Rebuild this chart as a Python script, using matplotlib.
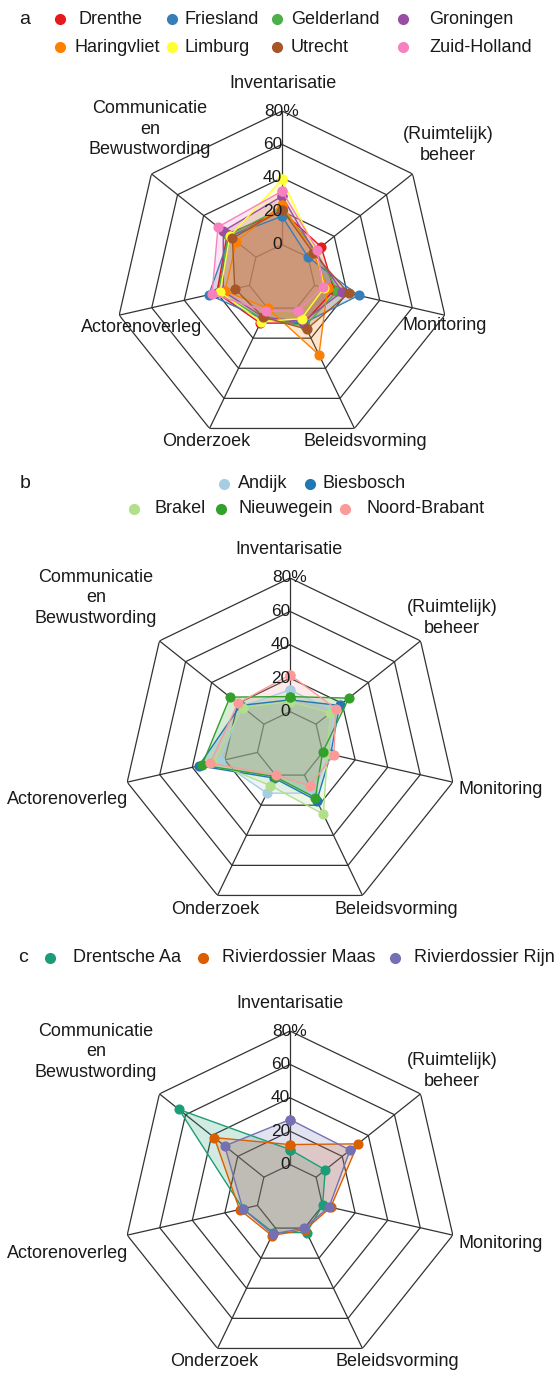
import matplotlib
matplotlib.use('Agg')
import matplotlib.pyplot as plt
import numpy as np
from matplotlib.lines import Line2D

plt.rcParams['font.family'] = ['Liberation Sans', 'DejaVu Sans']

W, H = 555, 1374

categories = ['Inventarisatie', '(Ruimtelijk)\nbeheer', 'Monitoring', 'Beleidsvorming',
              'Onderzoek', 'Actorenoverleg', 'Communicatie\nen\nBewustwording']
ring_values = [0, 20, 40, 60, 80]
ring_labels = ['0', '20', '40', '60', '80%']

# panel a
names_a = ['Drenthe', 'Friesland', 'Gelderland', 'Groningen',
           'Haringvliet', 'Limburg', 'Utrecht', 'Zuid-Holland']
colors_a = ['#e41a1c', '#377eb8', '#4daf4a', '#984ea3',
            '#ff7f00', '#ffff33', '#a65628', '#f781bf']
values_a = [
    [20, 10, 12, 10, 10, 20, 22],
    [17, 0, 27, 10, 7, 25, 20],
    [22, 6, 14, 12, 7, 19, 21],
    [29, 5, 17, 9, 6, 16, 25],
    [24, 4, 8, 31, 0, 15, 15],
    [39, 6, 6, 7, 9, 18, 20],
    [21, 4, 21, 14, 6, 9, 18],
    [32, 7, 5, 2, 2, 23, 29],
]

# panel b
names_b = ['Andijk', 'Biesbosch', 'Brakel', 'Nieuwegein', 'Noord-Brabant']
colors_b = ['#a6cee3', '#1f78b4', '#b2df8a', '#33a02c', '#fb9a99']
values_b = [
    [13, 13, 4, 12, 12, 23, 17],
    [7, 18, 5, 17, 2, 36, 18],
    [6, 11, 3, 26, 7, 27, 16],
    [9, 25, 0, 15, 1, 34, 26],
    [22, 15, 7, 7, 0, 29, 20],
]

# panel c
names_c = ['Drentsche Aa', 'Rivierdossier Maas', 'Rivierdossier Rijn']
colors_c = ['#1b9e77', '#d95f02', '#7570b3']
values_c = [
    [9, 7, 0, 3, 3, 9, 65],
    [12, 32, 5, 1, 5, 11, 38],
    [27, 26, 4, 0, 4, 9, 30],
]

# layout (pixels)
rad = 167
centers = [(282, 278), (290, 745), (290, 1198)]
label_offsets = [
    [(1, -195), (166, -133), (163, 47), (83, 164), (-76, 164), (-140, 49), (-132, -149)],
    [(-1, -196), (162, -127), (211, 45), (106, 164), (-75, 164), (-222, 55), (-194, -147)],
    [(0, -195), (162, -127), (211, 45), (107, 164), (-76, 164), (-222, 55), (-194, -146)],
]
# (dot x, text x, y)
legend_pos_a = [(60, 79, 19), (172, 185, 19), (277, 291, 19), (403, 429, 19),
                (60, 75, 47), (172, 185, 47), (277, 291, 47), (403, 429, 47)]
legend_pos_b = [(224, 238, 484), (310, 322, 484),
                (134, 155, 509), (221, 238, 509), (345, 366, 509)]
legend_pos_c = [(50, 73, 958), (203, 222, 958), (395, 414, 958)]
panel_letters = [('a', 25, 19), ('b', 25, 484), ('c', 23, 958)]

angles = np.linspace(0, 2 * np.pi, len(categories), endpoint=False)
closed = np.concatenate([angles, angles[:1]])

fig = plt.figure(figsize=(W / 100, H / 100), dpi=100)


def draw_radar(ax, values, colors, offsets):
    ax.set_theta_zero_location('N')
    ax.set_theta_direction(-1)
    ax.set_ylim(-20, 80)
    ax.grid(False)
    ax.set_xticks([])
    ax.set_yticks([])
    ax.spines['polar'].set_visible(False)
    ax.set_facecolor('none')

    # heptagon grid
    for r in ring_values:
        ax.plot(closed, [r] * len(closed), color='#333333', lw=0.9, zorder=1)
    for a in angles:
        ax.plot([a, a], [0, 80], color='#333333', lw=0.9, zorder=1)

    for vals, c in zip(values, colors):
        v = list(vals) + [vals[0]]
        ax.fill(closed, v, color=c, alpha=0.2, zorder=2, lw=0)
        ax.plot(closed, v, color=c, lw=1.0, marker='o', ms=6.3, zorder=3)

    for r, lab in zip(ring_values, ring_labels):
        ax.text(0, r, lab, ha='center' if lab.endswith('%') else 'right',
                va='center', fontsize=12.5, color='#1a1a1a', zorder=5)

    for cat, (dx, dy) in zip(categories, offsets):
        ax.text(0.5 + dx / (2 * rad), 0.5 - dy / (2 * rad), cat,
                transform=ax.transAxes, ha='center', va='center',
                fontsize=13, color='#1a1a1a', linespacing=1.3)


def draw_legend(names, colors, positions):
    for n, c, (dx, tx, y) in zip(names, colors, positions):
        fig.add_artist(Line2D([dx / W], [1 - y / H], transform=fig.transFigure,
                              marker='o', ms=7, color=c, ls='none'))
        fig.text(tx / W, 1 - y / H, n, ha='left', va='center',
                 fontsize=13, color='#1a1a1a')


panels = [(values_a, colors_a, names_a, legend_pos_a),
          (values_b, colors_b, names_b, legend_pos_b),
          (values_c, colors_c, names_c, legend_pos_c)]

for i, (vals, cols, names, lpos) in enumerate(panels):
    cx, cy = centers[i]
    ax = fig.add_axes([(cx - rad) / W, 1 - (cy + rad) / H, 2 * rad / W, 2 * rad / H],
                      projection='polar')
    draw_radar(ax, vals, cols, label_offsets[i])
    draw_legend(names, cols, lpos)
    letter, lx, ly = panel_letters[i]
    fig.text(lx / W, 1 - ly / H, letter, ha='center', va='center',
             fontsize=14, color='#1a1a1a')

fig.savefig('out.png', dpi=100)
